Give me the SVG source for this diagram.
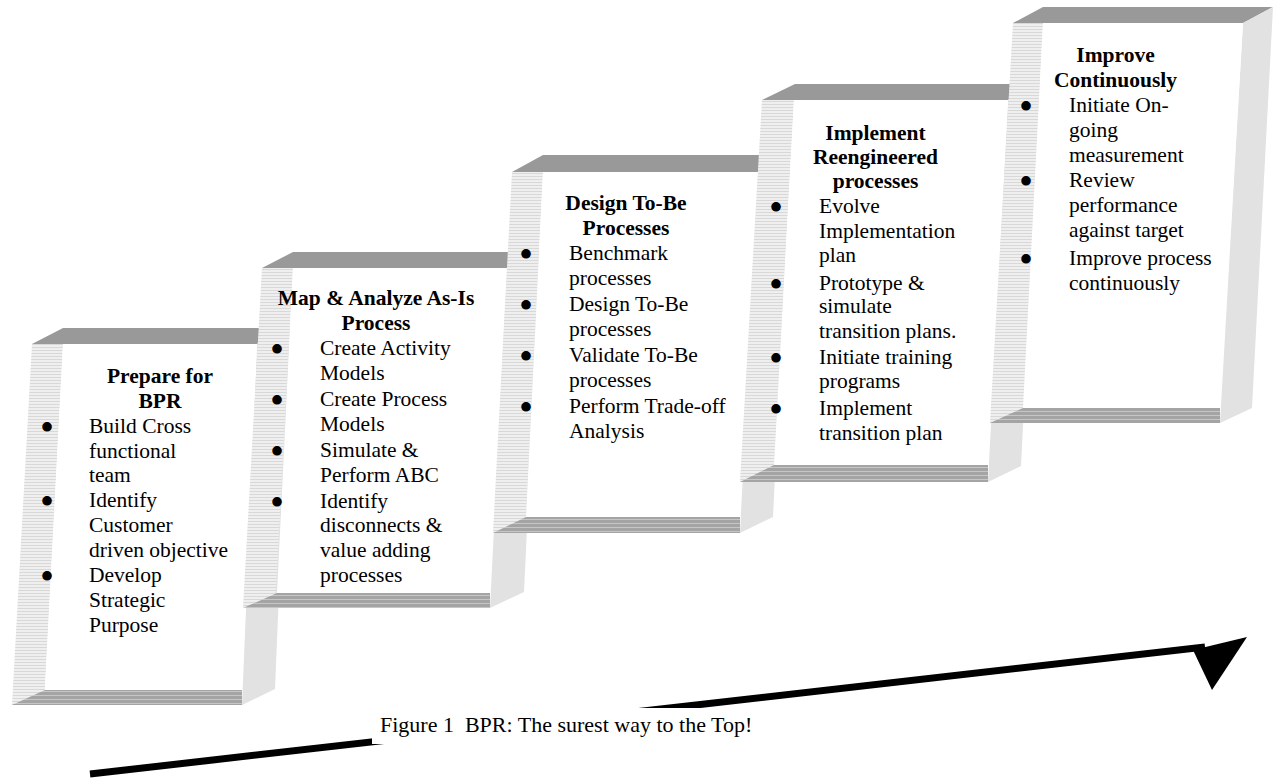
<svg xmlns="http://www.w3.org/2000/svg" width="1273" height="780" viewBox="0 0 1273 780">
<defs>
<pattern id="ls" width="8" height="3" patternUnits="userSpaceOnUse"><rect width="8" height="3" fill="#efefef"/><rect y="2" width="8" height="1" fill="#d8d8d8"/></pattern>
<pattern id="bb" width="8" height="4" patternUnits="userSpaceOnUse"><rect width="8" height="4" fill="#a4a4a4"/><rect y="3" width="8" height="1" fill="#c6c6c6"/></pattern>
</defs>
<style>
.top{fill:#999999}
.lst{fill:url(#ls)}
.rf{fill:#e2e2e2}
.wf{fill:#ffffff}
.bot{fill:url(#bb)}
text{font-family:"Liberation Serif","Times New Roman",serif;font-size:21.5px;fill:#000}
.h{font-weight:bold;text-anchor:middle}
.bu{text-anchor:middle;font-size:40px}
</style>
<rect width="1273" height="780" fill="#ffffff"/>

<g id="step1">
<polygon class="top" points="32,344 63,328 290,328 257,344"/>
<polygon class="rf" points="257,344 290,328 275,689 242,705"/>
<polygon class="lst" points="32,344 63,344 44,705 12,705"/>
<polygon class="wf" points="63,344 257,344 242,690 45,690"/>
<polygon class="bot" points="45,690 242,690 242,705 12,705"/>
<text class="h" x="160" y="383">Prepare for</text>
<text class="h" x="160" y="407.5">BPR</text>
<text class="bu" x="47" y="441">•</text>
<text x="89" y="433">Build Cross</text>
<text x="89" y="457.5">functional</text>
<text x="89" y="482">team</text>
<text class="bu" x="47" y="515">•</text>
<text x="89" y="507">Identify</text>
<text x="89" y="532">Customer</text>
<text x="89" y="557">driven objective</text>
<text class="bu" x="47" y="590">•</text>
<text x="89" y="582">Develop</text>
<text x="89" y="607">Strategic</text>
<text x="89" y="632">Purpose</text>
</g>

<g id="step2">
<polygon class="top" points="262,268 293,252 540,252 507,268"/>
<polygon class="rf" points="507,268 540,252 524,592 490,608"/>
<polygon class="lst" points="262,268 293,268 275,608 243,608"/>
<polygon class="wf" points="293,268 507,268 490,593 277,593"/>
<polygon class="bot" points="277,593 490,593 490,608 243,608"/>
<text class="h" x="376" y="305">Map &amp; Analyze As-Is</text>
<text class="h" x="376" y="330">Process</text>
<text class="bu" x="277" y="363">•</text>
<text x="320" y="355">Create Activity</text>
<text x="320" y="380">Models</text>
<text class="bu" x="277" y="414">•</text>
<text x="320" y="406">Create Process</text>
<text x="320" y="431">Models</text>
<text class="bu" x="277" y="465">•</text>
<text x="320" y="457">Simulate &amp;</text>
<text x="320" y="482">Perform ABC</text>
<text class="bu" x="277" y="516">•</text>
<text x="320" y="508">Identify</text>
<text x="320" y="532">disconnects &amp;</text>
<text x="320" y="557">value adding</text>
<text x="320" y="582">processes</text>
</g>

<g id="step3">
<polygon class="top" points="512,172 543,155 790,155 758,172"/>
<polygon class="rf" points="758,172 790,155 773,517 740,533"/>
<polygon class="lst" points="512,172 543,172 525,533 493,533"/>
<polygon class="wf" points="543,172 758,172 740,517 526,517"/>
<polygon class="bot" points="526,517 740,517 740,533 493,533"/>
<text class="h" x="626" y="210">Design To-Be</text>
<text class="h" x="626" y="235">Processes</text>
<text class="bu" x="526" y="268">•</text>
<text x="569" y="260">Benchmark</text>
<text x="569" y="285">processes</text>
<text class="bu" x="526" y="319">•</text>
<text x="569" y="311">Design To-Be</text>
<text x="569" y="336">processes</text>
<text class="bu" x="526" y="370">•</text>
<text x="569" y="362">Validate To-Be</text>
<text x="569" y="387">processes</text>
<text class="bu" x="526" y="421">•</text>
<text x="569" y="413">Perform Trade-off</text>
<text x="569" y="438">Analysis</text>
</g>

<g id="step4">
<polygon class="top" points="762,100 795,84 1040,84 1008,100"/>
<polygon class="rf" points="1008,100 1040,84 1021,466 988,482"/>
<polygon class="lst" points="762,100 794,100 773,482 740,482"/>
<polygon class="wf" points="794,100 1008,100 988,465 774,465"/>
<polygon class="bot" points="774,465 988,465 988,482 740,482"/>
<text class="h" x="875.5" y="140">Implement</text>
<text class="h" x="875.5" y="164">Reengineered</text>
<text class="h" x="875.5" y="188">processes</text>
<text class="bu" x="776" y="221">•</text>
<text x="819" y="213">Evolve</text>
<text x="819" y="238">Implementation</text>
<text x="819" y="262">plan</text>
<text class="bu" x="776" y="298">•</text>
<text x="819" y="290">Prototype &amp;</text>
<text x="819" y="313">simulate</text>
<text x="819" y="338">transition plans.</text>
<text class="bu" x="776" y="372">•</text>
<text x="819" y="364">Initiate training</text>
<text x="819" y="388">programs</text>
<text class="bu" x="776" y="423">•</text>
<text x="819" y="415">Implement</text>
<text x="819" y="440">transition plan</text>
</g>

<g id="step5">
<polygon class="top" points="1013,23 1043,7 1273,7 1243,23"/>
<polygon class="rf" points="1243,23 1273,7 1252,408 1220,423"/>
<polygon class="lst" points="1013,23 1043,23 1023,423 990,423"/>
<polygon class="wf" points="1043,23 1243,23 1220,408 1023,408"/>
<polygon class="bot" points="1023,408 1220,408 1220,423 990,423"/>
<text class="h" x="1115.5" y="62">Improve</text>
<text class="h" x="1115.5" y="87">Continuously</text>
<text class="bu" x="1026" y="120">•</text>
<text x="1069" y="112">Initiate On-</text>
<text x="1069" y="137">going</text>
<text x="1069" y="162">measurement</text>
<text class="bu" x="1026" y="195">•</text>
<text x="1069" y="187">Review</text>
<text x="1069" y="212">performance</text>
<text x="1069" y="237">against target</text>
<text class="bu" x="1026" y="273">•</text>
<text x="1069" y="265">Improve process</text>
<text x="1069" y="290">continuously</text>
</g>

<g id="connectors">
<line x1="90" y1="774" x2="1205" y2="647" stroke="#000" stroke-width="7"/>
<polygon points="1247,637 1193,650 1212,690" fill="#000"/>
</g>

<g id="caption">
<rect x="372" y="708" width="390" height="36" fill="#ffffff"/>
<text x="380" y="732" style="font-size:22px" xml:space="preserve">Figure 1  BPR: The surest way to the Top!</text>
</g>
</svg>
